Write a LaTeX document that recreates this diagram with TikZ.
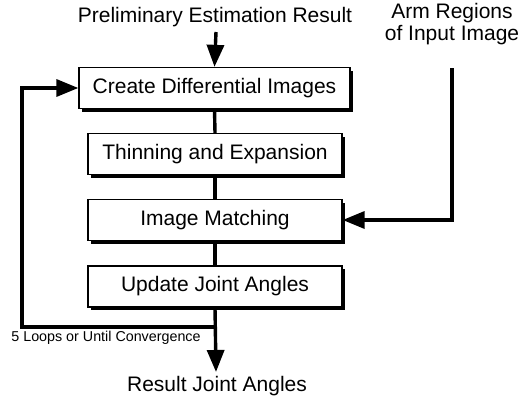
\documentclass[tikz,border=0pt]{standalone}
\usepackage{fontspec}
\setmainfont{Liberation Sans}
\usetikzlibrary{arrows.meta,shadows}

\tikzset{
  procbox/.style={draw,line width=1.3pt,fill=white,minimum height=41pt,
    font=\fontsize{21}{24}\selectfont,
    drop shadow={shadow xshift=3pt,shadow yshift=-3pt,fill=black,opacity=1}},
  flow/.style={line width=3.4pt,-{Triangle[length=22pt,width=17pt]}},
  link/.style={line width=3.4pt},
  lbl/.style={font=\fontsize{21}{22}\selectfont,align=center,inner sep=0pt}
}

\begin{document}
\begin{tikzpicture}[x=1pt,y=-1pt]
		\useasboundingbox (0,0) rectangle (527,396);
		%\draw[blue] (0,0) grid (527,396);

		\node [lbl] (pre) at (215,17) {Preliminary Estimation Result};
		\node [lbl] (arm) at (452,24) {Arm Regions\\of Input Image};

		\node [procbox,minimum width=271pt] (diff) at (214.5,88) {Create Differential Images};
		\node [procbox,minimum width=254pt] (thin) at (215,154) {Thinning and Expansion};
		\node [procbox,minimum width=254pt] (match) at (215,220) {Image Matching};
		\node [procbox,minimum width=254pt] (upd) at (215,286.5) {Update Joint Angles};

		\node [lbl] (res) at (217,386) {Result Joint Angles};
		\node [font=\fontsize{14.3}{16}\selectfont,inner sep=0pt] (loops) at (106,338) {5 Loops or Until Convergence};

		\coordinate (armtop) at (452,68);
		\coordinate (join) at (216,327);
		\coordinate (loopc) at (22,327);
		\coordinate (loopt) at (22,88);
		\coordinate (restop) at (216,372);

		\draw [flow] (216,32) -- (diff.north);
		\draw [link] (diff.south) -- (thin.north);
		\draw [link] (thin.south) -- (match.north);
		\draw [link] (match.south) -- (upd.north);
		\draw [flow] (armtop) |- (match.east);
		\draw [flow] (upd.south) -- (restop);
		\draw [flow] (join) -- (loopc) -- (loopt) -- (diff.west);

	\end{tikzpicture}
\end{document}
